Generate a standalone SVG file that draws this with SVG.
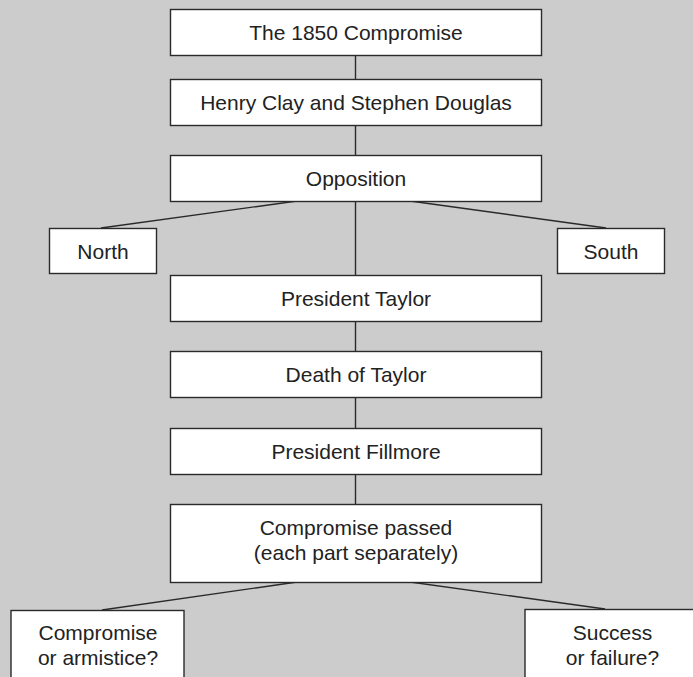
<svg xmlns="http://www.w3.org/2000/svg" width="693" height="677" viewBox="0 0 693 677">
  <style>
    .box { fill: #ffffff; stroke: #2a2a2a; stroke-width: 1.4; }
    .lbl { font-family: "Liberation Sans", Arial, sans-serif; font-size: 21px; fill: #222222; text-anchor: middle; }
    .link { stroke: #2a2a2a; stroke-width: 1.4; fill: none; }
  </style>
  <rect x="0" y="0" width="693" height="677" fill="#cccccc"/>

  <!-- connectors -->
  <g id="connectors">
    <line class="link" x1="355.5" y1="56" x2="355.5" y2="79"/>
    <line class="link" x1="355.5" y1="125" x2="355.5" y2="155"/>
    <line class="link" x1="355.5" y1="201" x2="355.5" y2="275"/>
    <line class="link" x1="297" y1="201" x2="101" y2="228"/>
    <line class="link" x1="410" y1="201" x2="606" y2="228"/>
    <line class="link" x1="355.5" y1="321" x2="355.5" y2="352"/>
    <line class="link" x1="355.5" y1="397" x2="355.5" y2="428"/>
    <line class="link" x1="355.5" y1="474" x2="355.5" y2="504"/>
    <line class="link" x1="297" y1="582" x2="102" y2="610"/>
    <line class="link" x1="410" y1="582" x2="605" y2="609"/>
  </g>

  <g id="compromise1850">
    <rect class="box" x="170.5" y="9.5" width="371" height="46"/>
    <text class="lbl" x="356" y="40">The 1850 Compromise</text>
  </g>
  <g id="clay-douglas">
    <rect class="box" x="170.5" y="79.5" width="371" height="46"/>
    <text class="lbl" x="356" y="110">Henry Clay and Stephen Douglas</text>
  </g>
  <g id="opposition">
    <rect class="box" x="170.5" y="155.5" width="371" height="46"/>
    <text class="lbl" x="356" y="186">Opposition</text>
  </g>
  <g id="north">
    <rect class="box" x="49.5" y="228.5" width="107" height="45"/>
    <text class="lbl" x="103" y="258.5">North</text>
  </g>
  <g id="south">
    <rect class="box" x="557.5" y="228.5" width="107" height="45"/>
    <text class="lbl" x="611" y="258.5">South</text>
  </g>
  <g id="taylor">
    <rect class="box" x="170.5" y="275.5" width="371" height="46"/>
    <text class="lbl" x="356" y="306">President Taylor</text>
  </g>
  <g id="death-taylor">
    <rect class="box" x="170.5" y="351.5" width="371" height="46"/>
    <text class="lbl" x="356" y="382">Death of Taylor</text>
  </g>
  <g id="fillmore">
    <rect class="box" x="170.5" y="428.5" width="371" height="46"/>
    <text class="lbl" x="356" y="459">President Fillmore</text>
  </g>
  <g id="compromise-passed">
    <rect class="box" x="170.5" y="504.5" width="371" height="78"/>
    <text class="lbl" x="356" y="535">Compromise passed</text>
    <text class="lbl" x="356" y="559.5">(each part separately)</text>
  </g>
  <g id="compromise-or-armistice">
    <rect class="box" x="11" y="610.5" width="173" height="80"/>
    <text class="lbl" x="98" y="640">Compromise</text>
    <text class="lbl" x="98" y="665">or armistice?</text>
  </g>
  <g id="success-or-failure">
    <rect class="box" x="525" y="609.5" width="180" height="80"/>
    <text class="lbl" x="612.5" y="640">Success</text>
    <text class="lbl" x="612.5" y="665">or failure?</text>
  </g>
</svg>
